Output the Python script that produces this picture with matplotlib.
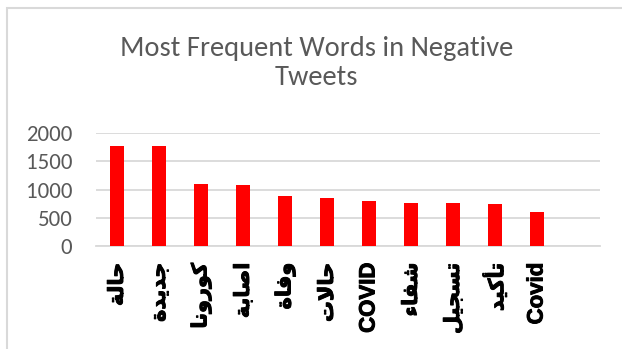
import matplotlib
matplotlib.use("Agg")
import matplotlib.pyplot as plt
import matplotlib.patheffects as pe
from matplotlib.patches import Rectangle
from matplotlib.font_manager import FontProperties
from matplotlib.transforms import offset_copy

# Word frequencies
words = ["حالة", "جديدة", "كورونا", "اصابة", "وفاة", "حالات",
         "COVID", "شفاء", "تسجيل", "تأكيد", "Covid"]
counts = [1775, 1775, 1100, 1083, 893, 850, 796, 767, 767, 743, 602]
yticks = [0, 500, 1000, 1500, 2000]
title = "Most Frequent Words in Negative\nTweets"

# Arabic presentation forms: (isolated, final, initial, medial)
FORMS = {
    "ء": (0xFE80,),
    "أ": (0xFE83, 0xFE84),
    "ا": (0xFE8D, 0xFE8E),
    "ب": (0xFE8F, 0xFE90, 0xFE91, 0xFE92),
    "ة": (0xFE93, 0xFE94),
    "ت": (0xFE95, 0xFE96, 0xFE97, 0xFE98),
    "ث": (0xFE99, 0xFE9A, 0xFE9B, 0xFE9C),
    "ج": (0xFE9D, 0xFE9E, 0xFE9F, 0xFEA0),
    "ح": (0xFEA1, 0xFEA2, 0xFEA3, 0xFEA4),
    "د": (0xFEA9, 0xFEAA),
    "ر": (0xFEAD, 0xFEAE),
    "س": (0xFEB1, 0xFEB2, 0xFEB3, 0xFEB4),
    "ش": (0xFEB5, 0xFEB6, 0xFEB7, 0xFEB8),
    "ص": (0xFEB9, 0xFEBA, 0xFEBB, 0xFEBC),
    "ف": (0xFED1, 0xFED2, 0xFED3, 0xFED4),
    "ك": (0xFED9, 0xFEDA, 0xFEDB, 0xFEDC),
    "ل": (0xFEDD, 0xFEDE, 0xFEDF, 0xFEE0),
    "ن": (0xFEE5, 0xFEE6, 0xFEE7, 0xFEE8),
    "و": (0xFEED, 0xFEEE),
    "ي": (0xFEF1, 0xFEF2, 0xFEF3, 0xFEF4),
}
LAM_ALEF = {"ا": (0xFEFB, 0xFEFC), "أ": (0xFEF7, 0xFEF8)}


def shape_arabic(text):
    """Contextual shaping + visual (LTR) ordering for a single Arabic word."""
    if not any(c in FORMS for c in text):
        return text
    tokens = []
    i = 0
    while i < len(text):
        c = text[i]
        if c == "ل" and i + 1 < len(text) and text[i + 1] in LAM_ALEF:
            tokens.append(LAM_ALEF[text[i + 1]])
            i += 2
            continue
        tokens.append(FORMS.get(c, c))
        i += 1
    out = []
    n = len(tokens)
    for k, t in enumerate(tokens):
        if isinstance(t, str):
            out.append(t)
            continue
        prev_j = k > 0 and not isinstance(tokens[k - 1], str) and len(tokens[k - 1]) == 4
        next_j = (len(t) == 4 and k + 1 < n and not isinstance(tokens[k + 1], str)
                  and len(tokens[k + 1]) >= 2)
        if prev_j and next_j:
            cp = t[3]
        elif prev_j and len(t) >= 2:
            cp = t[1]
        elif next_j:
            cp = t[2]
        else:
            cp = t[0]
        out.append(chr(cp))
    return "".join(reversed(out))


labels = [shape_arabic(w) for w in words]

GRAY_TXT = "#595959"
GRID = "#d9d9d9"

fig = plt.figure(figsize=(6.22, 3.49), dpi=100)
fig.patch.set_facecolor("white")

# chart border
fig.add_artist(Rectangle((7 / 622, -0.05), 1.2, 1 - 8 / 349 + 0.05,
                         transform=fig.transFigure, fill=False,
                         edgecolor=GRID, linewidth=1.5))

ax = fig.add_axes([96 / 622, 1 - 246 / 349, (600 - 96) / 622, (246 - 133.3) / 349])
x = list(range(len(words)))
ax.bar(x, counts, width=0.32, color="#ff0000", zorder=3)

ax.set_xlim(-0.5, len(words) + 0.5)
ax.set_ylim(0, 2000)
ax.set_yticks(yticks)
ax.set_yticklabels([str(v) for v in yticks])
ytick_fp = FontProperties(family="Carlito", size=16.5)
for lab in ax.get_yticklabels():
    lab.set_fontproperties(ytick_fp)
    lab.set_color(GRAY_TXT)
ax.yaxis.grid(True, color=GRID, linewidth=1.3, zorder=0)
ax.tick_params(axis="y", length=0, pad=17)
ax.set_xticks([])

# category labels, rotated, hanging below the baseline
latin_fp = FontProperties(family="Liberation Sans", weight="bold", size=16)
arabic_fp = FontProperties(family="DejaVu Sans", weight="bold", size=15)
heavy = [pe.withStroke(linewidth=0.7, foreground="black")]
lab_tr = offset_copy(ax.get_xaxis_transform(), fig=fig, y=-12, units="points")
for xi, lab, w in zip(x, labels, words):
    ax.text(xi, 0, lab, transform=lab_tr, rotation=90, ha="center", va="top",
            color="black", fontproperties=latin_fp if w.isascii() else arabic_fp,
            path_effects=heavy, clip_on=False)

for s in ["top", "right", "left"]:
    ax.spines[s].set_visible(False)
ax.spines["bottom"].set_color(GRID)
ax.spines["bottom"].set_linewidth(1.3)

fig.text(316.5 / 622, 1 - 36 / 349, title, ha="center", va="top",
         family="Carlito", fontsize=20.5, color=GRAY_TXT, linespacing=1.2)

fig.savefig("out.png", dpi=100)
